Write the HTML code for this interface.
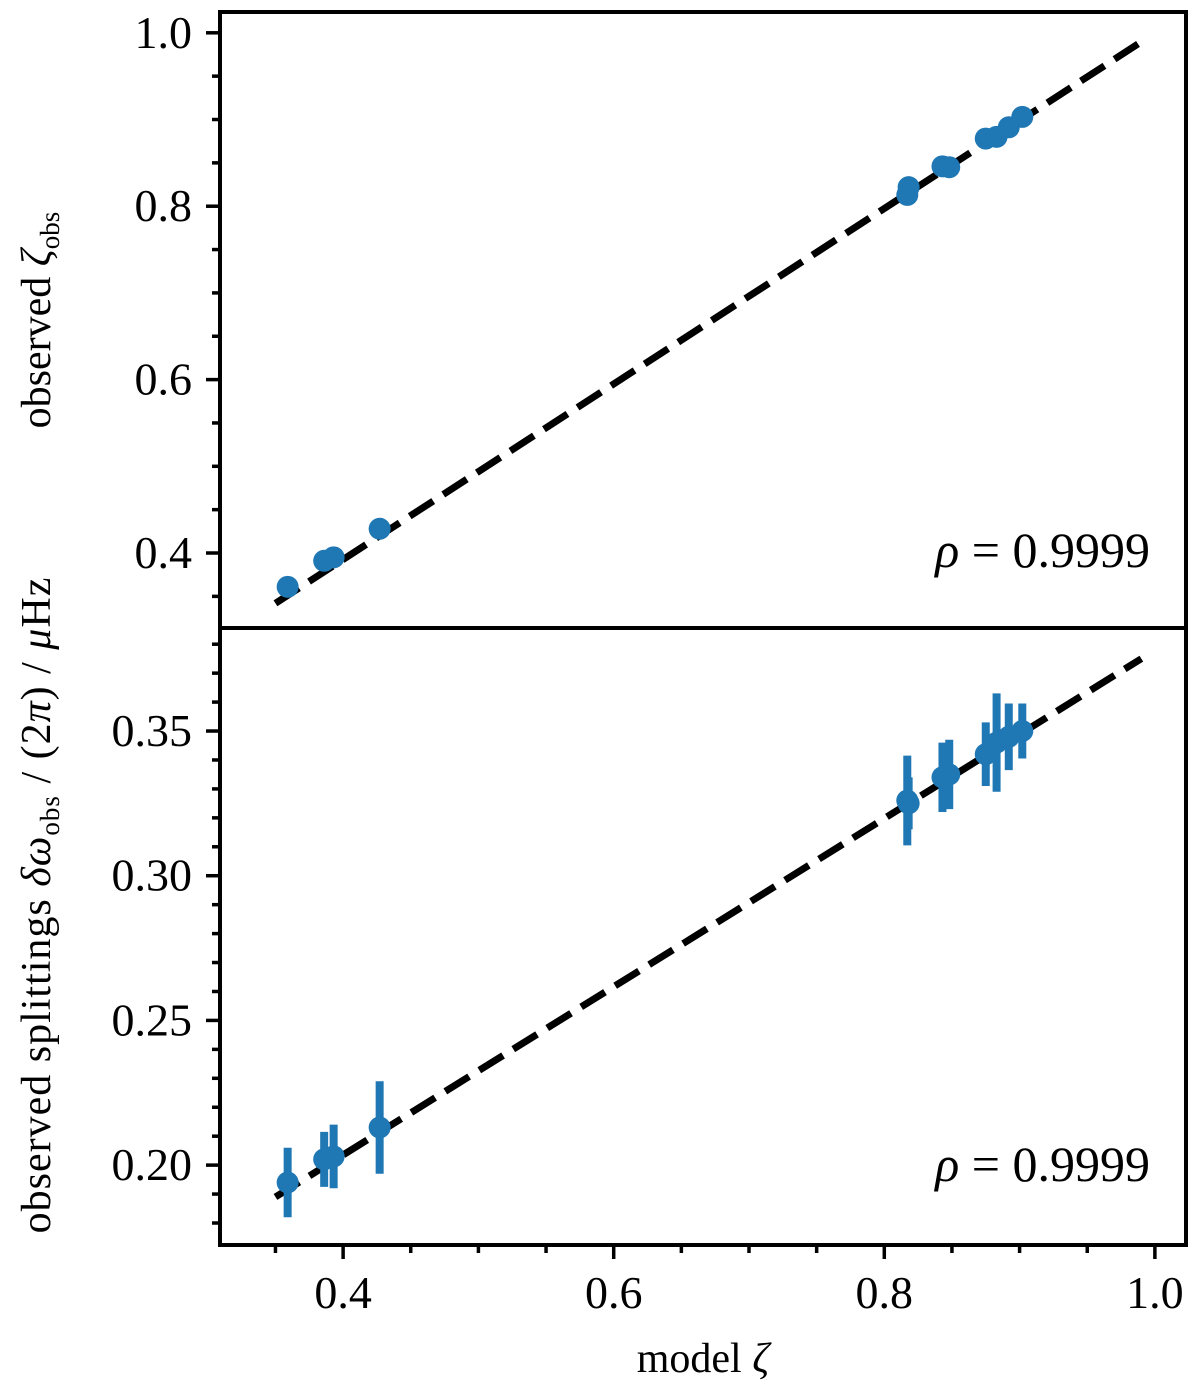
<!DOCTYPE html>
<html><head><meta charset="utf-8"><style>
body{margin:0;background:#fff}
svg text{font-family:"Liberation Serif",serif;fill:#000}
</style></head><body>
<svg id="c" width="1200" height="1394" xmlns="http://www.w3.org/2000/svg"></svg>
<script>
const modelZeta=[0.359,0.386,0.393,0.427,0.817,0.818,0.843,0.848,0.875,0.883,0.892,0.902];
const obsZeta=[0.361,0.391,0.395,0.428,0.813,0.822,0.846,0.845,0.878,0.880,0.891,0.903];
const splits=[0.194,0.202,0.203,0.213,0.326,0.325,0.334,0.335,0.342,0.346,0.348,0.350];
const splitErr=[0.012,0.0095,0.011,0.016,0.0155,0.009,0.012,0.012,0.011,0.017,0.0115,0.0095];
const xTicks=[0.4,0.6,0.8,1.0];
const topYTicks=[0.4,0.6,0.8,1.0];
const botYTicks=[0.20,0.25,0.30,0.35];
const fitTop=[0.35,0.342,0.99,0.9896];
const fitBot=[0.35,0.189,0.99,0.375];
const rhoText="0.9999";

const NS="http://www.w3.org/2000/svg";
const svg=document.getElementById('c');
function el(t,a,p){const e=document.createElementNS(NS,t);for(const k in a)e.setAttribute(k,a[k]);(p||svg).appendChild(e);return e;}
const L=220,R=1186;
const X=v=>L+(v-0.309)/(1.023-0.309)*(R-L);
const YT=v=>12+(1.024-v)/(1.024-0.3135)*(628-12);
const YB=v=>628+(0.3856-v)/(0.3856-0.1724)*(1245-628);
const blue="#1f77b4";

let e=el('line',{x1:X(fitTop[0]),y1:YT(fitTop[1]),x2:X(fitTop[2]),y2:YT(fitTop[3]),stroke:'#000','stroke-width':7,'stroke-dasharray':'28 12'});

e=el('line',{x1:X(fitBot[0]),y1:YB(fitBot[1]),x2:X(fitBot[2]),y2:YB(fitBot[3]),stroke:'#000','stroke-width':7,'stroke-dasharray':'28 12'});


modelZeta.forEach((m,i)=>{
  let c=el('circle',{cx:X(m),cy:YT(obsZeta[i]),r:11,fill:blue});
  
  let b=el('line',{x1:X(m),x2:X(m),y1:YB(splits[i]-splitErr[i]),y2:YB(splits[i]+splitErr[i]),stroke:blue,'stroke-width':8});
  
  let c2=el('circle',{cx:X(m),cy:YB(splits[i]),r:11,fill:blue});
  
});

e=el('rect',{x:L,y:12,width:R-L,height:616,fill:'none',stroke:'#000','stroke-width':4});

e=el('rect',{x:L,y:628,width:R-L,height:617,fill:'none',stroke:'#000','stroke-width':4});


function tk(x1,y1,x2,y2,nm){const t=el('line',{x1,y1,x2,y2,stroke:'#000','stroke-width':3.5});}
function tx(x,y,s,anchor,nm,fs){const t=el('text',{x,y,'font-size':fs||46,'text-anchor':anchor});t.textContent=s;return t;}
for(let v=0.35;v<=1.001;v+=0.05){const y=YT(v);const maj=topYTicks.some(t=>Math.abs(t-v)<1e-6);tk(L-(maj?14:8),y,L,y,maj?'y-major-tick':'y-minor-tick');}
topYTicks.forEach(v=>tx(192,YT(v)+15,v.toFixed(1),'end','top-y-tick-label'));
for(let v=0.18;v<=0.3801;v+=0.01){const y=YB(v);const maj=botYTicks.some(t=>Math.abs(t-v)<1e-6);tk(L-(maj?14:8),y,L,y,maj?'y-major-tick':'y-minor-tick');}
botYTicks.forEach(v=>tx(192,YB(v)+15,v.toFixed(2),'end','bottom-y-tick-label'));
for(let v=0.35;v<=1.001;v+=0.05){const x=X(v);const maj=xTicks.some(t=>Math.abs(t-v)<1e-6);tk(x,1245,x,1245+(maj?14:8),maj?'x-major-tick':'x-minor-tick');}
xTicks.forEach(v=>tx(X(v),1308,v.toFixed(1),'middle','x-tick-label'));

let t=tx(703,1372,'','middle','x-axis-title',42);t.innerHTML='model <tspan font-style="italic">ζ</tspan>';
t=el('text',{x:0,y:0,'font-size':42,'text-anchor':'middle',transform:'translate(50,320) rotate(-90)'});

t.innerHTML='observed <tspan font-style="italic">ζ</tspan><tspan font-size="27" dy="9">obs</tspan>';
t=el('text',{x:0,y:0,'font-size':42,'text-anchor':'middle','letter-spacing':'1',transform:'translate(50,905) rotate(-90)'});

t.innerHTML='observed splittings <tspan font-style="italic">δω</tspan><tspan font-size="27" dy="9">obs</tspan><tspan dy="-9"> / (2</tspan><tspan font-style="italic">π</tspan>) / <tspan font-style="italic">μ</tspan>Hz';
t=tx(1150,567,'','end','top-correlation-label',50);t.innerHTML='<tspan font-style="italic">ρ</tspan> = '+rhoText;
t=tx(1150,1181,'','end','bottom-correlation-label',50);t.innerHTML='<tspan font-style="italic">ρ</tspan> = '+rhoText;
</script>
</body></html>
